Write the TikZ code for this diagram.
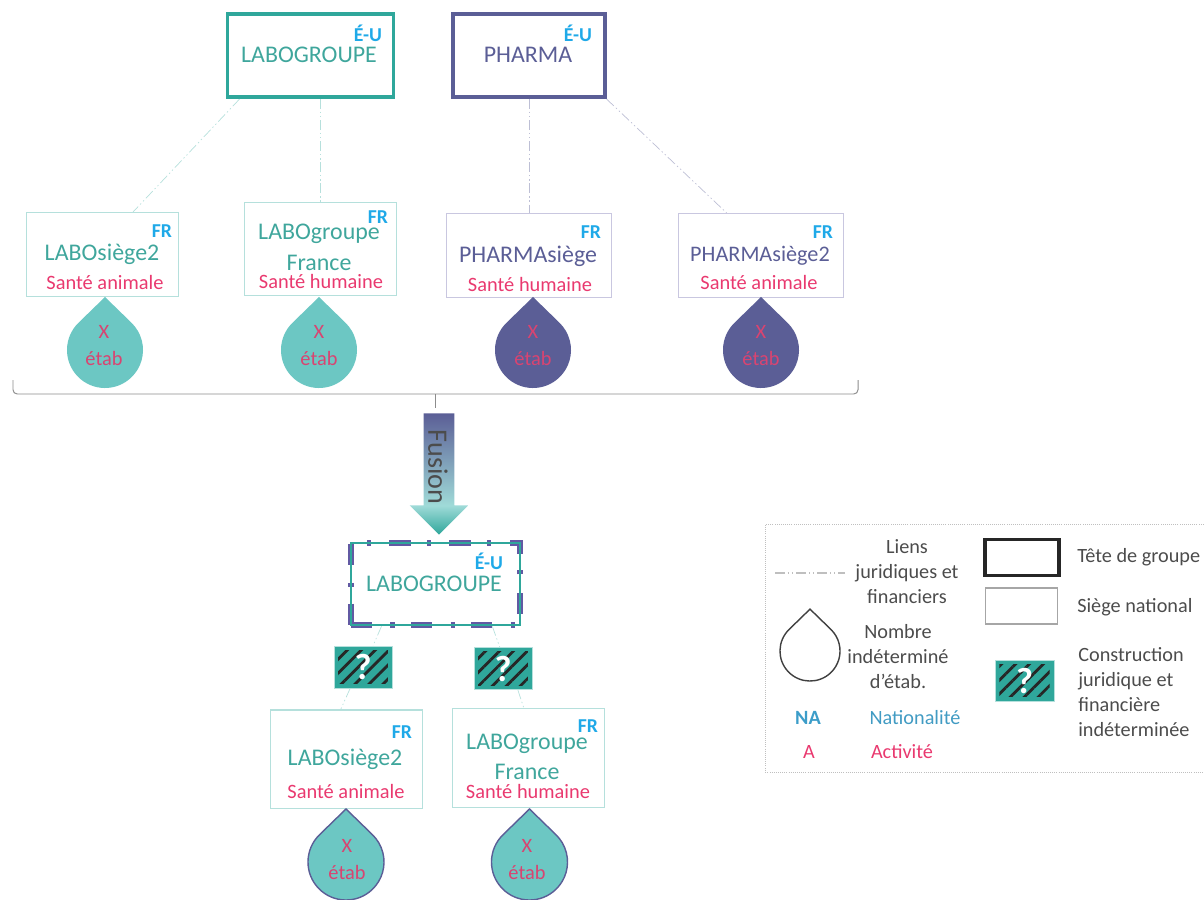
\documentclass[tikz,border=0pt]{standalone}
\usepackage{fontspec}
\setmainfont{Carlito}
\usepackage{tikz}
\usetikzlibrary{shapes.arrows, patterns.meta}
\usepackage{xcolor}
\definecolor{tealgroupe}{HTML}{2FA79B}
\definecolor{tealtxt}{HTML}{3FA69C}
\definecolor{tealgoutte}{HTML}{6CC7C3}
\definecolor{tealpale}{HTML}{B5E0DC}
\definecolor{violetgroupe}{HTML}{5B5E96}
\definecolor{violettrait}{HTML}{6259A3}
\definecolor{violetpale}{HTML}{C9C7E0}
\definecolor{rose}{HTML}{E9396F}
\definecolor{bleunat}{HTML}{1FA9E8}
\pgfdeclareverticalshading{fusionfill}{100bp}{color(0bp)=(tealgroupe); color(25bp)=(tealgroupe); color(37bp)=(tealgoutte!65!white); color(75bp)=(violetgroupe); color(100bp)=(violetgroupe)}
\tikzstyle{tete} = [rectangle, inner sep=0pt,
minimum width=4.15cm,
minimum height=2.08cm,
line width=2.8pt]
\tikzstyle{siege} = [rectangle, inner sep=0pt,
minimum width=3.8cm,
minimum height=2.1cm,
line width=0.8pt]
\tikzstyle{nom} = [inner sep=0pt, font=\fontsize{17}{20}\selectfont]
\tikzstyle{activite} = [inner sep=0pt, text=rose, font=\fontsize{14.5}{16}\selectfont]
\tikzstyle{nat} = [inner sep=0pt, text=bleunat, font=\fontsize{14}{16}\selectfont\bfseries]
\tikzstyle{etab} = [inner sep=0pt, text=rose!85!gray, font=\fontsize{14.5}{16}\selectfont]
\tikzstyle{lien} = [line width=0.5pt, dash pattern=on 7pt off 2pt on 1pt off 2pt on 1pt off 2pt]
\tikzstyle{indet} = [rectangle, inner sep=0pt, draw=tealpale, line width=0.4pt,
minimum width=1.45cm,
minimum height=1.05cm,
fill=tealgroupe,
path picture={\fill[pattern={Lines[angle=45,distance=7pt,line width=2pt]}, pattern color=black!85]
	([shift={(3pt,3pt)}]path picture bounding box.south west) rectangle ([shift={(-3pt,-3pt)}]path picture bounding box.north east);},
text=white, font=\fontsize{26}{28}\selectfont\bfseries]
\tikzstyle{legende} = [inner sep=0pt, text=black!70, align=center, font=\fontsize{14.4}{17.8}\selectfont]
\tikzset{pics/goutte/.style={code={
	\draw[#1, x=1cm, y=1cm] (0,1.325) -- (134:0.95) arc[start angle=134, end angle=406, radius=0.95] -- cycle;
}}}

\begin{document}
\begin{tikzpicture}[x=0.025cm, y=-0.025cm, node distance=5cm]
	\useasboundingbox (0,0) rectangle (1204,900);

	% groupes
	\node (labo) [tete, draw=tealgroupe] at (310.5,55.5) {};
	\node (pharma) [tete, draw=violetgroupe, minimum width=3.78cm] at (529,55.5) {};
	\node (laboNom) [nom, text=tealtxt] at (309,55) {LABOGROUPE};
	\node (pharmaNom) [nom, text=violetgroupe] at (528,55) {PHARMA};
	\node (laboNat) [nat] at (368,33) {É-U};
	\node (pharmaNat) [nat] at (578,33) {É-U};

	\node (labosiege) [siege, draw=tealpale, below of=labo, xshift=-5.19cm, yshift=0.02cm] {};
	\node (labofrance) [siege, draw=tealpale, below of=labo, xshift=0.25cm, yshift=0.16cm, minimum width=3.82cm, minimum height=2.33cm] {};
	\node (pharmasiege) [siege, draw=violetpale, below of=pharma, minimum width=4.12cm] {};
	\node (pharmasiegeB) [siege, draw=violetpale, right of=pharmasiege, xshift=0.79cm, minimum width=4.12cm] {};

	\node (labosiegeNom) [nom, text=tealtxt] at (102,254) {LABOsiège2};
	\node (labosiegeAct) [activite] at (105,282) {Santé animale};
	\node (labosiegeNat) [nat] at (162,231) {FR};
	\node (labofranceNom) [nom, text=tealtxt] at (319,234) {LABOgroupe};
	\node (labofranceNomB) [nom, text=tealtxt] at (319,263) {France};
	\node (labofranceAct) [activite] at (321,281) {Santé humaine};
	\node (labofranceNat) [nat] at (378,217) {FR};
	\node (pharmasiegeNom) [nom, text=violetgroupe] at (528,256) {PHARMAsiège};
	\node (pharmasiegeAct) [activite] at (530,284) {Santé humaine};
	\node (pharmasiegeNat) [nat] at (591,232) {FR};
	\node (pharmasiegeBNom) [nom, text=violetgroupe, font=\fontsize{15.8}{20}\selectfont] at (760,256) {PHARMAsiège2};
	\node (pharmasiegeBAct) [activite] at (759,282) {Santé animale};
	\node (pharmasiegeBNat) [nat] at (823,232) {FR};

	\draw [lien, draw=tealgroupe!35] ([xshift=0.35cm]labo.south west) -- ([xshift=0.75cm]labosiege.north);
	\draw [lien, draw=tealgroupe!35] (labo.south -| labofrance.north) -- (labofrance.north);
	\draw [lien, draw=violetgroupe!40] (pharma.south) -- (pharma.south |- pharmasiege.north);
	\draw [lien, draw=violetgroupe!40] (pharma.south east) -- ([xshift=-0.85cm]pharmasiegeB.north);

	% etablissements
	\pic at (105,350) {goutte={fill=tealgoutte, draw=none}};
	\pic at (319,350) {goutte={fill=tealgoutte, draw=none}};
	\pic at (533,350) {goutte={fill=violetgroupe, draw=none}};
	\pic at (761,350) {goutte={fill=violetgroupe, draw=none}};
	\node (xa) [etab] at (104,332) {X};
	\node (ea) [etab] at (104,358) {étab};
	\node (xb) [etab] at (319,332) {X};
	\node (eb) [etab] at (319,358) {étab};
	\node (xc) [etab] at (533,332) {X};
	\node (ec) [etab] at (533,358) {étab};
	\node (xd) [etab] at (761,332) {X};
	\node (ed) [etab] at (761,358) {étab};

	% accolade
	\coordinate (accG) at (13,380);
	\coordinate (accD) at (858,380);
	\coordinate (accM) at (435,394);
	\coordinate (accP) at (435,408);
	\draw [black!45, line width=0.7pt, rounded corners=3pt] (accG) |- (accM) -| (accD);
	\draw [black!45, line width=0.7pt] (accM) -- (accP);

	% fusion
	\node (fusion) [single arrow, rotate=-90, anchor=tip, shading=fusionfill, shading angle=0, inner sep=0pt,
		minimum height=3.03cm, minimum width=1.45cm, single arrow head indent=0pt,
		single arrow head extend=0.35cm] at (439,535) {\rule[-0.375cm]{0pt}{0.75cm}};
	\node (fusionTxt) [rotate=-90, inner sep=0pt, text=black!70, font=\fontsize{20}{22}\selectfont] at (438,467) {Fusion};

	\node (fusionne) [tete, draw=tealgroupe, line width=1.9pt, minimum width=4.22cm, minimum height=2.05cm,
		preaction={draw=violettrait, line width=4.8pt, dash pattern=on 15pt off 13pt on 3pt off 11.7pt}] at (435.5,584) {};
	\node (fusionneNom) [nom, text=tealtxt] at (434,584) {LABOGROUPE};
	\node (fusionneNat) [nat] at (489,561) {É-U};

	\node (indetA) [indet] at (363,667) {?};
	\node (indetB) [indet] at (503,668.5) {?};
	\node (labosiegeC) [siege, draw=tealpale, below of=fusionne, xshift=-2.23cm, yshift=0.625cm, minimum height=2.45cm] {};
	\node (labofranceC) [siege, draw=tealpale, below of=fusionne, xshift=2.325cm, yshift=0.66cm, minimum height=2.47cm] {};

	\draw [lien, draw=tealgroupe!35] ([xshift=-1.35cm]fusionne.south) -- ([xshift=0.25cm]indetA.north);
	\draw [lien, draw=tealgroupe!35] ([xshift=1.42cm]fusionne.south) -- ([xshift=-0.08cm]indetB.north);
	\draw [lien, draw=tealgroupe!35] ([xshift=-0.32cm]indetA.south) -- ([xshift=-0.14cm]labosiegeC.north);
	\draw [lien, draw=tealgroupe!35] ([xshift=0.37cm]indetB.south) -- ([xshift=-0.12cm]labofranceC.north);

	\node (labosiegeCNom) [nom, text=tealtxt] at (345,759) {LABOsiège2};
	\node (labosiegeCAct) [activite] at (346,791) {Santé animale};
	\node (labosiegeCNat) [nat] at (402,732) {FR};
	\node (labofranceCNom) [nom, text=tealtxt] at (527,744) {LABOgroupe};
	\node (labofranceCNomB) [nom, text=tealtxt] at (527,772) {France};
	\node (labofranceCAct) [activite] at (528,791) {Santé humaine};
	\node (labofranceCNat) [nat] at (588,726) {FR};

	\pic at (346,862) {goutte={fill=tealgoutte, draw=violetgroupe, line width=1pt}};
	\pic at (529.5,862) {goutte={fill=tealgoutte, draw=violetgroupe, line width=1pt}};
	\node (xe) [etab] at (347,846) {X};
	\node (ee) [etab] at (347,872) {étab};
	\node (xf) [etab] at (527,846) {X};
	\node (ef) [etab] at (527,872) {étab};

	% legende
	\node (cadre) [rectangle, draw=black!25, densely dotted, line width=0.5pt, minimum width=11.1cm, minimum height=6.2cm, anchor=north west] at (765,524) {};
	\coordinate (lienG) at (775,573);
	\coordinate (lienD) at (845,573);
	\draw [lien, draw=black!25, line width=0.8pt] (lienG) -- (lienD);
	\node (lienTxt) [legende] at (907,572) {Liens\\juridiques et\\financiers};
	\pic[scale=0.79] at (810,651) {goutte={draw=black!75, line width=1pt, fill=white}};
	\node (goutteTxt) [legende] at (898,657) {Nombre\\indéterminé\\d’étab.};
	\node (natA) [inner sep=0pt, text=bleunat!70!gray, font=\fontsize{14.4}{16}\selectfont\bfseries] at (808,718) {NA};
	\node (natB) [inner sep=0pt, text=bleunat!65!gray, font=\fontsize{14.4}{16}\selectfont] at (915,718) {Nationalité};
	\node (actA) [inner sep=0pt, text=rose, font=\fontsize{14.4}{16}\selectfont] at (809,752) {A};
	\node (actB) [inner sep=0pt, text=rose, font=\fontsize{14.4}{16}\selectfont] at (902,752) {Activité};
	\node (teteLeg) [rectangle, draw=black!85, line width=2.8pt, minimum width=1.83cm, minimum height=0.9cm] at (1022,557.5) {};
	\node (siegeLeg) [rectangle, draw=black!35, line width=0.8pt, minimum width=1.82cm, minimum height=0.9cm] at (1021.5,606) {};
	\node (indetLeg) [indet, minimum width=1.47cm, minimum height=1.02cm] at (1024.5,680.5) {?};
	\node (teteTxt) [legende, anchor=west] at (1077,557) {Tête de groupe};
	\node (siegeTxt) [legende, anchor=west] at (1077,607) {Siège national};
	\node (indetTxt) [legende, anchor=west, align=left] at (1078,692) {Construction\\juridique et\\financière\\indéterminée};
\end{tikzpicture}
\end{document}
